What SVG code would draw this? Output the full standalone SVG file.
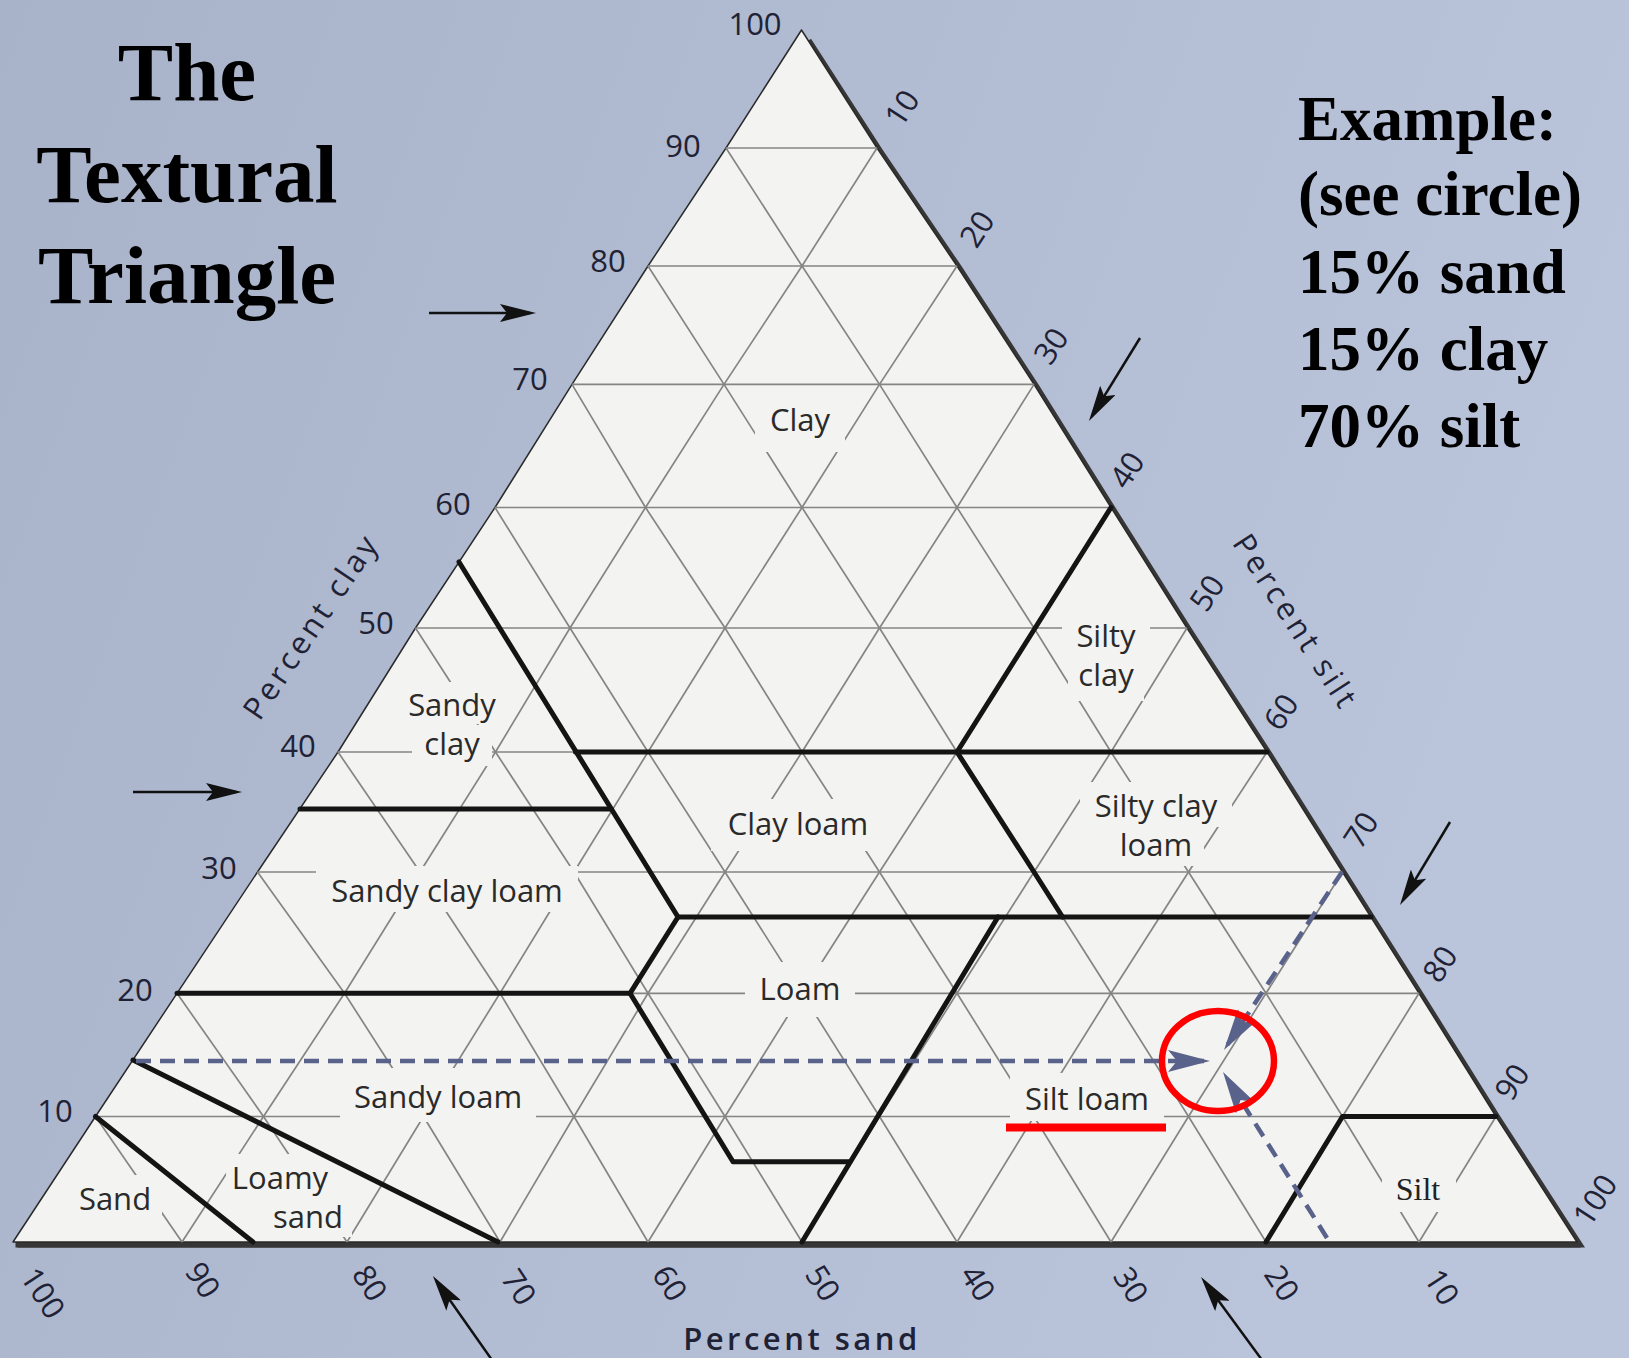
<svg xmlns="http://www.w3.org/2000/svg" width="1629" height="1358" viewBox="0 0 1629 1358">
<defs>
<linearGradient id="bg" x1="0" y1="0" x2="1" y2="0.3">
<stop offset="0" stop-color="#a8b2c9"/>
<stop offset="1" stop-color="#bac4db"/>
</linearGradient>
<marker id="ah" markerUnits="userSpaceOnUse" markerWidth="36" markerHeight="18" refX="30" refY="9" orient="auto">
<path d="M0,0 L36,9 L0,18 L7,9 z" fill="#111"/>
</marker>
<marker id="bh" markerUnits="userSpaceOnUse" markerWidth="42" markerHeight="22" refX="36" refY="11" orient="auto">
<path d="M0,0 L42,11 L0,22 L9,11 z" fill="#59628a"/>
</marker>
<style>
.grid{stroke:#858585;stroke-width:1.7;fill:none}
.thick{stroke:#141414;stroke-width:5;fill:none;stroke-linejoin:round;stroke-linecap:round}
.ko{fill:#f3f3f1}
.lbl{font-family:'Open Sans','DejaVu Sans',sans-serif;font-size:31px;fill:#2a2a2a;text-anchor:middle}
.num{font-family:'Open Sans','DejaVu Sans',sans-serif;font-size:31px;fill:#1f2235;text-anchor:middle}
.axis{font-family:'Open Sans','DejaVu Sans',sans-serif;font-size:31px;fill:#1f2235;text-anchor:middle;letter-spacing:3.5px}
.serif{font-family:'Liberation Serif','Times New Roman',serif;font-weight:bold;fill:#000}
.arrow{stroke:#111;stroke-width:2.5;fill:none;marker-end:url(#ah)}
.dash{stroke:#59628a;stroke-width:4.5;stroke-dasharray:15 9;fill:none;marker-end:url(#bh)}
</style>
</defs>
<rect width="1629" height="1358" fill="url(#bg)"/>

<g id="triangle">
<polygon transform="translate(4,6)" fill="#6a6e78" points="13,1242 801.5,30 877,148 957,266 1034,384.4 1111,507.5 1187,628 1267,752 1342.5,872 1419,993.3 1496,1116.5 1577,1242"/>
<polyline transform="translate(2.5,2.5)" fill="none" stroke="#363636" stroke-width="6" stroke-linejoin="miter" points="806,38 877,148 957,266 1034,384.4 1111,507.5 1187,628 1267,752 1342.5,872 1419,993.3 1496,1116.5 1577,1242 13,1242"/>
<polygon fill="#f3f3f1" stroke="#2a2a2a" stroke-width="1.5" stroke-linejoin="round" points="13,1242 95.5,1116.5 177,993.3 257.5,872 338,752 415.5,628 495,507.5 572,384.4 648,266 726,148 801.5,30 877,148 957,266 1034,384.4 1111,507.5 1187,628 1267,752 1342.5,872 1419,993.3 1496,1116.5 1577,1242"/>
</g>

<g id="grid" class="grid">
<line x1="95.5" y1="1116.5" x2="1496" y2="1116.5"/>
<line x1="177" y1="993.3" x2="1419" y2="993.3"/>
<line x1="257.5" y1="872" x2="1342.5" y2="872"/>
<line x1="338" y1="752" x2="1267" y2="752"/>
<line x1="415.5" y1="628" x2="1187" y2="628"/>
<line x1="495" y1="507.5" x2="1111" y2="507.5"/>
<line x1="572" y1="384.4" x2="1034" y2="384.4"/>
<line x1="648" y1="266" x2="957" y2="266"/>
<line x1="726" y1="148" x2="877" y2="148"/>
<polyline points="182,1242 95.5,1116.5"/>
<polyline points="347,1242 263.5,1116.5 177,993.3"/>
<polyline points="500,1242 423.5,1116.5 344.5,993.3 257.5,872"/>
<polyline points="648,1242 574,1116.5 500,993.3 420,872 338,752"/>
<polyline points="802,1242 725,1116.5 648,993.3 574,872 495.5,752 415.5,628"/>
<polyline points="957,1242 879.5,1116.5 802,993.3 725,872 648,752 570,628 495,507.5"/>
<polyline points="1111,1242 1034,1116.5 957,993.3 879.5,872 802,752 725,628 645.5,507.5 572,384.4"/>
<polyline points="1266,1242 1188.5,1116.5 1111,993.3 1034,872 957,752 879.5,628 802,507.5 724,384.4 648,266"/>
<polyline points="1419,1242 1342.5,1116.5 1266,993.3 1188.5,872 1111,752 1034,628 957,507.5 879.5,384.4 802,266 726,148"/>
<polyline points="182,1242 263.5,1116.5 344.5,993.3 420,872 495.5,752 570,628 645.5,507.5 724,384.4 802,266 877,148"/>
<polyline points="347,1242 423.5,1116.5 500,993.3 574,872 648,752 725,628 802,507.5 879.5,384.4 957,266"/>
<polyline points="500,1242 574,1116.5 648,993.3 725,872 802,752 879.5,628 957,507.5 1034,384.4"/>
<polyline points="648,1242 725,1116.5 802,993.3 879.5,872 957,752 1034,628 1111,507.5"/>
<polyline points="802,1242 879.5,1116.5 957,993.3 1034,872 1111,752 1187,628"/>
<polyline points="957,1242 1034,1116.5 1111,993.3 1188.5,872 1267,752"/>
<polyline points="1111,1242 1188.5,1116.5 1266,993.3 1342.5,872"/>
<polyline points="1266,1242 1342.5,1116.5 1419,993.3"/>
<polyline points="1419,1242 1496,1116.5"/>
</g>

<g id="label-gaps" class="ko">
<rect x="755" y="396" width="90" height="56"/>
<rect x="1062" y="613" width="88" height="44"/>
<rect x="1068" y="654" width="76" height="47"/>
<rect x="1080" y="782" width="152" height="45"/>
<rect x="1108" y="826" width="96" height="40"/>
<rect x="711" y="799" width="174" height="52"/>
<rect x="396" y="682" width="112" height="42"/>
<rect x="412" y="725" width="80" height="41"/>
<rect x="316" y="866" width="262" height="46"/>
<rect x="745" y="962" width="110" height="55"/>
<rect x="340" y="1068" width="196" height="54"/>
<rect x="226" y="1154" width="108" height="44"/>
<rect x="266" y="1196" width="86" height="41"/>
<rect x="70" y="1175" width="92" height="46"/>
<rect x="1010" y="1073" width="154" height="48"/>
<rect x="1382" y="1164" width="74" height="48"/>
</g>

<g id="class-boundaries" class="thick">
<polyline points="95.5,1116.5 253,1242"/>
<polyline points="133,1060 498,1242"/>
<polyline points="177,993.3 630,993.3 678,917 1371,917"/>
<polyline points="630,993.3 733,1161.7 850,1161.7"/>
<polyline points="998,917 802,1242"/>
<polyline points="459,562 678,917"/>
<polyline points="300,809 611,809"/>
<polyline points="575.5,752 1267,752"/>
<polyline points="1111,507.5 957,752 1034,872 1062.6,917"/>
<polyline points="1266,1242 1342.5,1116.5 1496,1116.5"/>
</g>

<g id="clay-scale" class="num">
<text x="755" y="35">100</text>
<text x="683" y="157">90</text>
<text x="608" y="272">80</text>
<text x="530" y="390">70</text>
<text x="453" y="515">60</text>
<text x="376" y="634">50</text>
<text x="298" y="757">40</text>
<text x="219" y="879">30</text>
<text x="135" y="1001">20</text>
<text x="55" y="1122">10</text>
</g>

<g id="sand-scale" class="num">
<text transform="translate(43,1293) rotate(57)" y="11">100</text>
<text transform="translate(203,1280) rotate(57)" y="11">90</text>
<text transform="translate(370,1283) rotate(57)" y="11">80</text>
<text transform="translate(519,1287) rotate(57)" y="11">70</text>
<text transform="translate(670,1283) rotate(57)" y="11">60</text>
<text transform="translate(823,1283) rotate(57)" y="11">50</text>
<text transform="translate(978,1283) rotate(57)" y="11">40</text>
<text transform="translate(1131,1285) rotate(57)" y="11">30</text>
<text transform="translate(1282,1283) rotate(57)" y="11">20</text>
<text transform="translate(1442,1287) rotate(57)" y="11">10</text>
</g>

<g id="silt-scale" class="num">
<text transform="translate(902,108) rotate(-57)" y="11">10</text>
<text transform="translate(977,229) rotate(-57)" y="11">20</text>
<text transform="translate(1051,346) rotate(-57)" y="11">30</text>
<text transform="translate(1127,470) rotate(-57)" y="11">40</text>
<text transform="translate(1207,593) rotate(-57)" y="11">50</text>
<text transform="translate(1281,712) rotate(-57)" y="11">60</text>
<text transform="translate(1361,830) rotate(-57)" y="11">70</text>
<text transform="translate(1440,964) rotate(-57)" y="11">80</text>
<text transform="translate(1512,1082) rotate(-57)" y="11">90</text>
<text transform="translate(1595,1200) rotate(-57)" y="11">100</text>
</g>

<g id="axis-titles" class="axis">
<text transform="translate(311,626) rotate(-56)" y="11">Percent clay</text>
<text transform="translate(1296,622) rotate(57)" y="11">Percent silt</text>
<text x="802" y="1350" font-weight="600">Percent sand</text>
</g>

<g id="class-clay" class="lbl"><text x="800" y="431">Clay</text></g>
<g id="class-silty-clay" class="lbl"><text x="1106" y="647">Silty</text><text x="1106" y="686">clay</text></g>
<g id="class-silty-clay-loam" class="lbl"><text x="1156" y="817">Silty clay</text><text x="1156" y="856">loam</text></g>
<g id="class-clay-loam" class="lbl"><text x="798" y="835">Clay loam</text></g>
<g id="class-sandy-clay" class="lbl"><text x="452" y="716">Sandy</text><text x="452" y="755">clay</text></g>
<g id="class-sandy-clay-loam" class="lbl"><text x="447" y="902">Sandy clay loam</text></g>
<g id="class-loam" class="lbl"><text x="800" y="1000">Loam</text></g>
<g id="class-sandy-loam" class="lbl"><text x="438" y="1108">Sandy loam</text></g>
<g id="class-loamy-sand" class="lbl"><text x="280" y="1189">Loamy</text><text x="308" y="1228">sand</text></g>
<g id="class-sand" class="lbl"><text x="115" y="1210">Sand</text></g>
<g id="class-silt-loam" class="lbl"><text x="1087" y="1110">Silt loam</text></g>
<g id="class-silt"><text x="1418" y="1200" font-family="'Liberation Serif','Times New Roman',serif" font-size="32" fill="#222" text-anchor="middle">Silt</text></g>

<g id="connectors">
<line class="arrow" x1="429" y1="313" x2="530" y2="313"/>
<line class="arrow" x1="133" y1="792" x2="236" y2="792"/>
<line class="arrow" x1="1140" y1="338" x2="1092.1" y2="415.9"/>
<line class="arrow" x1="1450" y1="822" x2="1403.1" y2="899.9"/>
<line class="arrow" x1="492" y1="1360" x2="436.4" y2="1281"/>
<line class="arrow" x1="1262" y1="1360" x2="1204.6" y2="1281.8"/>
<line class="dash" x1="136" y1="1061" x2="1204" y2="1061"/>
<line class="dash" x1="1342" y1="872" x2="1227.3" y2="1045"/>
<line class="dash" x1="1327" y1="1238" x2="1226.2" y2="1077.1"/>
</g>

<g id="highlight">
<ellipse cx="1218" cy="1061" rx="56" ry="50" fill="none" stroke="#ff0000" stroke-width="6.5"/>
<rect x="1006" y="1123.5" width="160" height="8" fill="#ff0000"/>
</g>

<g id="title" class="serif" font-size="83" text-anchor="middle">
<text x="187" y="100">The</text>
<text x="187" y="202">Textural</text>
<text x="187" y="303">Triangle</text>
</g>

<g id="example" class="serif" font-size="63">
<text x="1298" y="140">Example:</text>
<text x="1298" y="215">(see circle)</text>
<text x="1298" y="293">15% sand</text>
<text x="1298" y="370">15% clay</text>
<text x="1298" y="447">70% silt</text>
</g>
</svg>
